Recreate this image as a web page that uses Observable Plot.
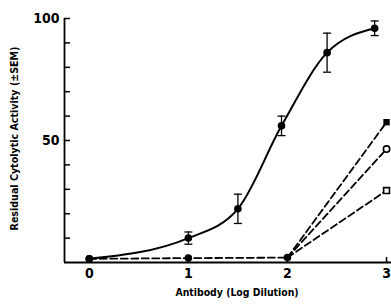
<!DOCTYPE html>
<html>
<head>
<meta charset="utf-8">
<script src="https://cdn.jsdelivr.net/npm/d3@7"></script>
<script src="https://cdn.jsdelivr.net/npm/@observablehq/plot@0.6"></script>
<style>
  html, body { margin: 0; padding: 0; background: #fff; }
  svg { font-family: "Liberation Sans Narrow", "DejaVu Sans Condensed", "Liberation Sans", sans-serif; font-weight: bold; }
</style>
</head>
<body>
<div id="chart"></div>
<script>
// Solid curve (with ± SEM)
const solidX = [0, 1, 1.5, 1.94, 2.4, 2.88];
const solidY = [1.5, 10, 22, 56, 86, 96];
const solidErr = [0, 2.5, 6, 4, 8, 3];

// Dashed baseline (filled circles)
const baseX = [0, 1, 2];
const baseY = [1.5, 1.8, 2];

// Dashed series from x = 2 to x = 3
const branchNames = ["filled square", "open circle", "open square"];
const branchStartX = 2;
const branchStartY = 2;
const branchEndX = 3;
const branchEndY = [57.5, 46.5, 29.5];

const xTicks = [0, 1, 2, 3];
const yTicks = [10, 20, 30, 40, 50, 60, 70, 80, 90, 100];
const yLabelTicks = [50, 100];

const yTitle = "Residual Cytolytic Activity (\u00b1SEM)";
const xTitle = "Antibody (Log Dilution)";

const solid = solidX.map((x, i) => ({x, y: solidY[i], e: solidErr[i]}));
const errs = solid.filter(d => d.e > 0);
const base = baseX.map((x, i) => ({x, y: baseY[i]}));
const branches = branchNames.flatMap((name, i) => [
  {name, x: branchStartX, y: branchStartY, end: false},
  {name, x: branchEndX, y: branchEndY[i], end: true}
]);
const ends = branches.filter(d => d.end);

const cap = {draw(ctx, size) { const w = Math.sqrt(size) / 2; ctx.moveTo(-w, 0); ctx.lineTo(w, 0); }};

const W = 391, H = 305, ML = 64, MR = 0, MT = 18, MB = 43;

const chart = Plot.plot({
  width: W,
  height: H,
  marginLeft: ML,
  marginRight: MR,
  marginTop: MT,
  marginBottom: MB,
  style: {fontSize: "13px", color: "#000", background: "#fff"},
  x: {domain: [-0.25, 3.05]},
  y: {domain: [0, 100]},
  marks: [
    // axis lines
    Plot.ruleY([0], {stroke: "#000", strokeWidth: 1.8}),
    Plot.ruleX([-0.25], {y1: 0, y2: 100, stroke: "#000", strokeWidth: 1.8}),
    // inward ticks
    Plot.tickY(yTicks, {y: d => d, insetRight: W - ML - MR - 6, stroke: "#000", strokeWidth: 1.5}),
    Plot.tickX(xTicks, {x: d => d, insetTop: H - MT - MB - 5, stroke: "#000", strokeWidth: 1.5}),
    Plot.axisY({ticks: yLabelTicks, tickSize: 0, tickPadding: 5, label: null, fontSize: 14}),
    Plot.axisX({ticks: xTicks, tickSize: 0, tickPadding: 6, tickFormat: d => String(d), label: null, fontSize: 14}),
    Plot.text([yTitle], {frameAnchor: "left", rotate: -90, textAnchor: "middle", dx: -50, dy: -2, fontSize: 10.6}),
    Plot.text([xTitle], {frameAnchor: "bottom", textAnchor: "middle", dx: 9, dy: 33, fontSize: 10.4}),
    // solid curve
    Plot.line(solid, {x: "x", y: "y", curve: "monotone-x", stroke: "#000", strokeWidth: 2}),
    Plot.ruleX(errs, {x: "x", y1: d => d.y - d.e, y2: d => d.y + d.e, stroke: "#000", strokeWidth: 1.3}),
    Plot.dot(errs, {x: "x", y: d => d.y - d.e, symbol: cap, r: 4.5, stroke: "#000", strokeWidth: 1.3}),
    Plot.dot(errs, {x: "x", y: d => d.y + d.e, symbol: cap, r: 4.5, stroke: "#000", strokeWidth: 1.3}),
    // dashed
    Plot.line(base, {x: "x", y: "y", stroke: "#000", strokeWidth: 1.8, strokeDasharray: "7,3.5"}),
    Plot.line(branches, {x: "x", y: "y", z: "name", stroke: "#000", strokeWidth: 1.8, strokeDasharray: "7,3.5"}),
    // markers
    Plot.dot(solid, {x: "x", y: "y", r: 3.8, fill: "#000"}),
    Plot.dot(base, {x: "x", y: "y", r: 3.8, fill: "#000"}),
    Plot.dot(ends.filter(d => d.name === "filled square"), {x: "x", y: "y", symbol: "square", r: 3.6, fill: "#000"}),
    Plot.dot(ends.filter(d => d.name === "open circle"), {x: "x", y: "y", r: 3.2, fill: "#fff", stroke: "#000", strokeWidth: 1.6}),
    Plot.dot(ends.filter(d => d.name === "open square"), {x: "x", y: "y", symbol: "square", r: 3.3, fill: "#fff", stroke: "#000", strokeWidth: 1.6})
  ]
});
document.getElementById("chart").appendChild(chart);
</script>
</body>
</html>
